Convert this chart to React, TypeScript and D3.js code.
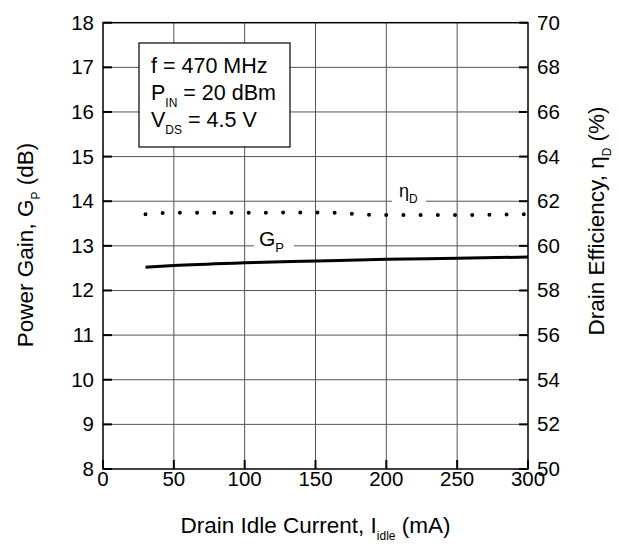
import { useRef, useEffect } from 'react';
import * as d3 from 'd3';

const idle = [30, 50, 100, 150, 200, 250, 300];
const gainDb = [12.52, 12.56, 12.62, 12.66, 12.70, 12.72, 12.75];
const effIdle = [30, 50, 100, 150, 200, 250, 300];
const effPct = [61.42, 61.48, 61.48, 61.5, 61.38, 61.38, 61.42];
const xTicks = [0, 50, 100, 150, 200, 250, 300];
const gainTicks = [8, 9, 10, 11, 12, 13, 14, 15, 16, 17, 18];
const effTicks = [50, 52, 54, 56, 58, 60, 62, 64, 66, 68, 70];
const boxLines = [
  { main: 'f = 470 MHz', sub: '', rest: '' },
  { main: 'P', sub: 'IN', rest: ' = 20 dBm' },
  { main: 'V', sub: 'DS', rest: ' = 4.5 V' },
];

const W = 619;
const H = 545;
const FONT = 'Liberation Sans, Arial, sans-serif';

function App() {
  const ref = useRef<SVGSVGElement>(null);

  useEffect(() => {
    const svg = d3.select(ref.current);
    svg.selectAll('*').remove();

    const left = 103, right = 528, top = 22.7, bottom = 469;
    const x = d3.scaleLinear().domain([0, 300]).range([left, right]);
    const yG = d3.scaleLinear().domain([8, 18]).range([bottom, top]);
    const yE = d3.scaleLinear().domain([50, 70]).range([bottom, top]);

    const g = svg.append('g').attr('font-family', FONT).attr('fill', '#000');

    // grid
    g.selectAll('line.vg').data(xTicks.slice(1, -1)).join('line')
      .attr('x1', d => x(d)).attr('x2', d => x(d))
      .attr('y1', top).attr('y2', bottom)
      .attr('stroke', '#555').attr('stroke-width', 1);
    g.selectAll('line.hg').data(gainTicks.slice(1, -1)).join('line')
      .attr('class', 'hg')
      .attr('x1', left).attr('x2', right)
      .attr('y1', d => yG(d)).attr('y2', d => yG(d))
      .attr('stroke', '#555').attr('stroke-width', 1);

    // ticks inward
    const tk = g.append('g').attr('stroke', '#000').attr('stroke-width', 2);
    gainTicks.forEach(t => {
      tk.append('line').attr('x1', left).attr('x2', left + 9).attr('y1', yG(t)).attr('y2', yG(t));
    });
    effTicks.forEach(t => {
      tk.append('line').attr('x1', right).attr('x2', right - 9).attr('y1', yE(t)).attr('y2', yE(t));
    });
    xTicks.forEach(t => {
      tk.append('line').attr('x1', x(t)).attr('x2', x(t)).attr('y1', bottom).attr('y2', bottom - 9);
    });

    // frame
    g.append('rect').attr('x', left).attr('y', top)
      .attr('width', right - left).attr('height', bottom - top)
      .attr('fill', 'none').attr('stroke', '#000').attr('stroke-width', 1.5);

    // tick labels
    g.selectAll('text.gl').data(gainTicks).join('text')
      .attr('x', left - 9).attr('y', d => yG(d) + 7)
      .attr('text-anchor', 'end').attr('font-size', 20.5).text(d => d);
    g.selectAll('text.el').data(effTicks).join('text')
      .attr('x', right + 9).attr('y', d => yE(d) + 7)
      .attr('font-size', 20.5).text(d => d);
    g.selectAll('text.xl').data(xTicks).join('text')
      .attr('x', d => x(d)).attr('y', bottom + 17)
      .attr('text-anchor', 'middle').attr('font-size', 20.5).text(d => d);

    // condition box
    g.append('rect').attr('x', 139).attr('y', 43).attr('width', 151).attr('height', 104)
      .attr('fill', '#fff').attr('stroke', '#000').attr('stroke-width', 1.2);
    boxLines.forEach((l, i) => {
      const t = g.append('text').attr('x', 151).attr('y', 73 + i * 27).attr('font-size', 21.5);
      t.append('tspan').text(l.main);
      if (l.sub) {
        t.append('tspan').attr('font-size', 12).attr('dy', 7).text(l.sub);
        t.append('tspan').attr('dy', -7).text(l.rest);
      }
    });

    // curve labels with white gaps
    g.append('rect').attr('x', 392).attr('y', 188).attr('width', 34).attr('height', 22).attr('fill', '#fff');
    const eta = g.append('text').attr('x', 399).attr('y', 197).attr('font-size', 18);
    eta.append('tspan').text('η');
    eta.append('tspan').attr('font-size', 12).attr('dy', 6).text('D');

    g.append('rect').attr('x', 254).attr('y', 228).attr('width', 40).attr('height', 24).attr('fill', '#fff');
    const gp = g.append('text').attr('x', 259).attr('y', 246).attr('font-size', 21);
    gp.append('tspan').text('G');
    gp.append('tspan').attr('font-size', 13).attr('dy', 6).text('P');

    // curves
    const gainLine = d3.line<number>().x((_, i) => x(idle[i])).y(d => yG(d)).curve(d3.curveMonotoneX);
    g.append('path').attr('d', gainLine(gainDb))
      .attr('fill', 'none').attr('stroke', '#000').attr('stroke-width', 3);

    const effLine = d3.line<number>().x((_, i) => x(effIdle[i])).y(d => yE(d)).curve(d3.curveMonotoneX);
    g.append('path').attr('d', effLine(effPct))
      .attr('fill', 'none').attr('stroke', '#000').attr('stroke-width', 4)
      .attr('stroke-linecap', 'round').attr('stroke-dasharray', '0 17.2');

    // axis titles
    const lt = g.append('text')
      .attr('transform', `translate(33, 245) rotate(-90)`)
      .attr('text-anchor', 'middle').attr('font-size', 22.5);
    lt.append('tspan').text('Power Gain, G');
    lt.append('tspan').attr('font-size', 12).attr('dy', 7).text('P');
    lt.append('tspan').attr('dy', -7).text(' (dB)');

    const rt = g.append('text')
      .attr('transform', `translate(604, 221) rotate(-90)`)
      .attr('text-anchor', 'middle').attr('font-size', 22.5);
    rt.append('tspan').text('Drain Efficiency, η');
    rt.append('tspan').attr('font-size', 12).attr('dy', 7).text('D');
    rt.append('tspan').attr('dy', -7).text(' (%)');

    const bt = g.append('text')
      .attr('x', (left + right) / 2).attr('y', 533)
      .attr('text-anchor', 'middle').attr('font-size', 22.5);
    bt.append('tspan').text('Drain Idle Current, I');
    bt.append('tspan').attr('font-size', 12).attr('dy', 7).text('idle');
    bt.append('tspan').attr('dy', -7).text(' (mA)');
  }, []);

  return (
    <svg
      ref={ref}
      width={W}
      height={H}
      style={{ position: 'absolute', left: 0, top: 0, background: '#fff' }}
    />
  );
}

export default App;
